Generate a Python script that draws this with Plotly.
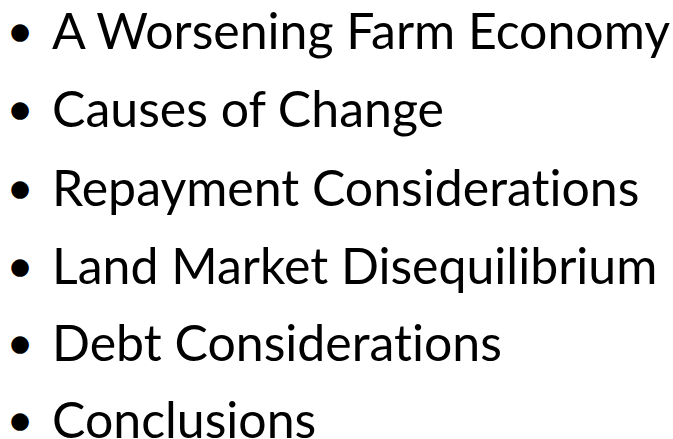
import plotly.graph_objects as go

items = [
    "A Worsening Farm Economy",
    "Causes of Change",
    "Repayment Considerations",
    "Land Market Disequilibrium",
    "Debt Considerations",
    "Conclusions",
]
line_centers = [30, 108, 187, 265, 342, 419]

fig = go.Figure()
for yc, t in zip(line_centers, items):
    fig.add_annotation(x=20, y=yc, text="\u25CF", showarrow=False, xanchor="center", yanchor="middle",
                       yshift=-1, font=dict(family="DejaVu Sans", size=23, color="black"))
    fig.add_annotation(x=50, y=yc, text=t.replace("ti", "t\u200ci"), showarrow=False,
                       xanchor="left", yanchor="middle",
                       font=dict(family="Lato", size=50, color="black"))

fig.update_layout(width=673, height=439, margin=dict(l=0, r=0, t=0, b=0),
                  paper_bgcolor="white", plot_bgcolor="white", showlegend=False,
                  xaxis=dict(range=[0, 673], visible=False, fixedrange=True),
                  yaxis=dict(range=[439, 0], visible=False, fixedrange=True))
fig.write_html("out.html", config={"displayModeBar": False},
               post_script="document.body.style.margin='0';")
